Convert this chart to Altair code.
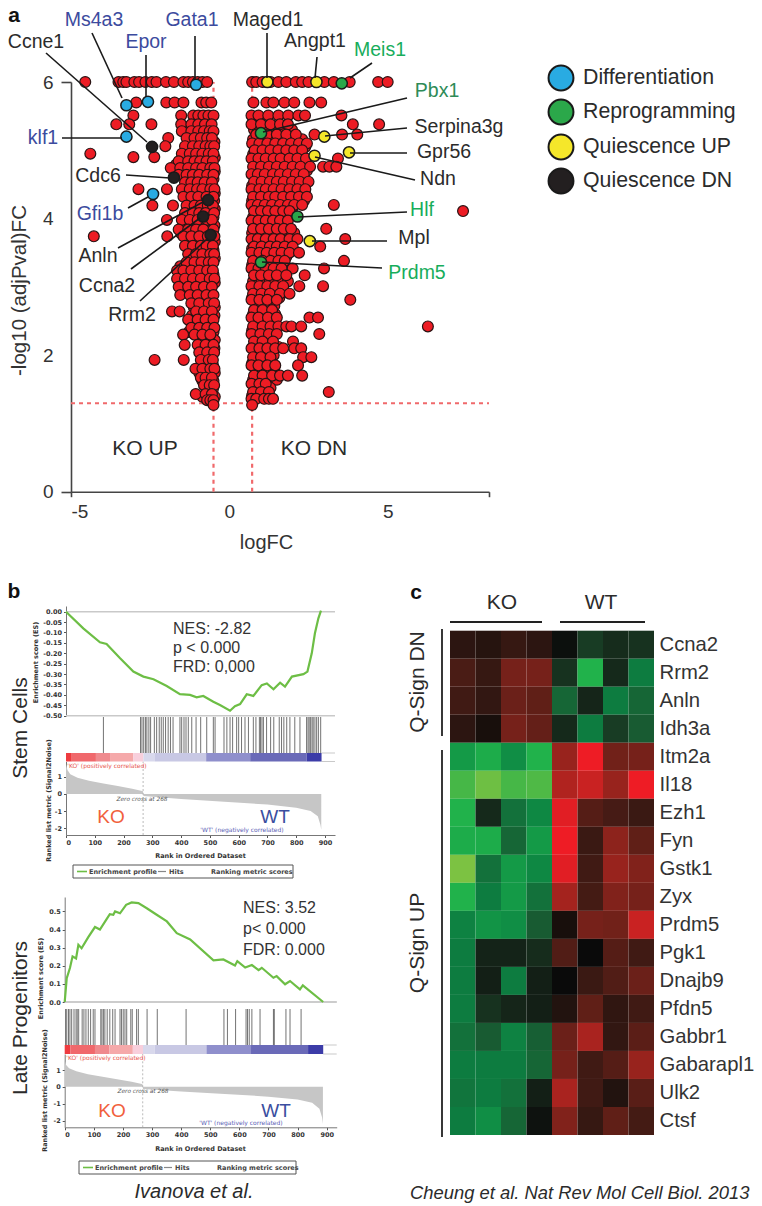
import altair as alt
import pandas as pd

W, H = 746, 1198

# ---------- panel a: volcano values (logFC, -log10 adj p) ----------
TOP_ROW_FC = [-4.55,-3.5,-3.35,-3.25,-3.0,-2.85,-2.65,-2.45,-2.3,-2.0,-1.75,-1.45,-1.3,-1.15,-1.0,-0.85,-0.7,
              0.72,0.85,1.05,1.3,1.55,1.8,2.1,2.3,2.5,3.0,3.3,3.8,4.7,5.0]
LEFT_ROWS = [
 (5.70,[-2.94,-1.99,-1.73,-1.45,-.88,-.73,-.57]),
 (5.51,[-3.03,-1.52,-1.14,-.98,-.82,-.66,-.5]),
 (5.38,[-3.57,-3.16,-2.46,-1.52,-1.2,-.98,-.77,-.56]),
 (5.28,[-1.5,-1.2,-.98,-.8,-.62,-.5]),
 (5.18,[-1.93,-1.35,-1.1,-.9,-.7,-.55]),
 (5.06,[-2.02,-1.4,-1.15,-.95,-.75,-.6,-.48]),
 (4.95,[-4.39,-1.5,-1.25,-1.05,-.85,-.65,-.5]),
 (4.90,[-3.03,-2.37]),
 (4.84,[-1.6,-1.3,-1.1,-.92,-.72,-.52]),
 (4.74,[-1.85,-1.55,-1.3,-1.05,-.85,-.6,-.47]),
 (4.64,[-1.6,-1.35,-1.15,-.95,-.7,-.5]),
 (4.53,[-1.4,-1.2,-1.0,-.78,-.55]),
 (4.43,[-2.87,-1.97,-1.5,-1.25,-1.02,-.85,-.6,-.47]),
 (4.32,[-1.45,-1.2,-.98,-.72,-.5]),
 (4.19,[-2.43,-1.78,-1.35,-1.1,-.9,-.68,-.52]),
 (4.08,[-1.4,-1.15,-.95,-.75,-.48]),
 (3.98,[-1.97,-1.5,-1.25,-1.0,-.7,-.55]),
 (3.84,[-1.6,-1.3,-1.05,-.82,-.5]),
 (3.74,[-4.28,-1.96,-1.45,-1.2,-.95,-.68,-.47]),
 (3.6,[-1.4,-1.15,-.9,-.72,-.52]),
 (3.48,[-1.3,-1.05,-.85,-.6,-.48]),
 (3.36,[-1.35,-1.1,-.88,-.65,-.5]),
 (3.24,[-1.65,-1.45,-1.2,-.95,-.7,-.52]),
 (3.12,[-1.65,-1.4,-1.15,-.9,-.62,-.47]),
 (3.0,[-1.6,-1.3,-1.05,-.8,-.55]),
 (2.88,[-1.55,-1.25,-1.0,-.72,-.5]),
 (2.76,[-1.2,-.95,-.65,-.48]),
 (2.64,[-1.81,-1.57,-1.05,-.8,-.55]),
 (2.52,[-1.3,-1.0,-.75,-.5]),
 (2.4,[-1.2,-.95,-.7,-.47]),
 (2.3,[-1.46,-1.1,-.85,-.6]),
 (2.15,[-1.41,-1.0,-.75,-.5]),
 (2.04,[-.95,-.7,-.48]),
 (1.93,[-2.36,-1.44,-.9,-.65,-.52]),
 (1.8,[-1.07,-.85,-.6,-.47]),
 (1.67,[-.9,-.75,-.55]),
 (1.56,[-.8,-.62,-.48]),
 (1.43,[-1.06,-.75,-.55]),
 (1.34,[-.7,-.6,-.5]),
 (1.27,[-.5]),
]
LEFT_FILL = [
 (5.33,[-1.35,-1.08,-.88,-.68]),(5.12,[-1.25,-1.02,-.82,-.64,-.47]),(5.0,[-1.32,-1.12,-.9,-.7,-.55]),
 (4.89,[-1.42,-1.18,-1.0,-.78,-.58,-.46]),(4.79,[-1.68,-1.42,-1.18,-.95,-.75,-.54]),(4.69,[-1.47,-1.25,-1.05,-.82,-.6,-.46]),
 (4.58,[-1.3,-1.1,-.9,-.66,-.5]),(4.48,[-1.38,-1.12,-.93,-.72,-.53]),(4.37,[-1.33,-1.1,-.85,-.62,-.46]),
 (4.26,[-1.28,-1.05,-.82,-.6,-.48]),(4.14,[-1.25,-1.02,-.84,-.6,-.46]),(4.02,[-1.33,-1.08,-.85,-.62,-.5]),
 (3.9,[-1.45,-1.15,-.92,-.66,-.47]),(3.78,[-1.52,-1.25,-1.0,-.78,-.55]),(3.66,[-1.3,-1.05,-.82,-.58,-.46]),
 (3.54,[-1.25,-1.02,-.8,-.62,-.5]),(3.42,[-1.2,-.98,-.75,-.55,-.46]),(3.3,[-1.55,-1.25,-1.0,-.77,-.58]),
 (3.18,[-1.52,-1.28,-1.05,-.8,-.5]),(3.06,[-1.48,-1.18,-.93,-.68,-.46]),(2.94,[-1.42,-1.12,-.88,-.62]),
 (2.82,[-1.08,-.82,-.55]),(2.7,[-1.12,-.9,-.68,-.46]),(2.58,[-1.18,-.92,-.65,-.47]),(2.46,[-1.08,-.82,-.58]),
 (2.34,[-1.28,-1.02,-.75,-.5]),(2.22,[-.92,-.66,-.46]),(2.1,[-.88,-.6,-.47]),(1.98,[-.8,-.55]),(1.86,[-.75,-.52]),
 (1.74,[-.95,-.68,-.46]),(1.62,[-.85,-.68,-.5]),(1.5,[-.68,-.52]),(1.39,[-.85,-.62,-.46]),
]
RIGHT_ROWS = [
 (5.70,[.76,1.17,1.39,1.74,2.05,2.53,2.9]),
 (5.51,[.7,.92,1.23,1.55,1.86,2.18,2.39,3.54]),
 (5.38,[.7,1.0,1.3,1.6,1.85,3.9,4.73]),
 (5.23,[.85,1.2,1.5,1.8,2.1,2.69,3.56,4.04]),
 (5.1,[.72,.95,1.2,1.45,1.7,1.95,2.2,2.45]),
 (5.0,[.8,1.05,1.3,1.55,1.8,2.05,2.3]),
 (4.88,[.7,.92,1.15,1.4,1.62,1.9,2.15,2.42,3.43]),
 (4.76,[.75,1.0,1.25,1.5,1.75,2.0,2.25,2.55,2.96,3.16,3.38]),
 (4.65,[.7,.9,1.12,1.38,1.6,1.85,2.1,2.35]),
 (4.54,[.78,1.02,1.28,1.5,1.72,1.98,2.22,2.5]),
 (4.43,[.7,.95,1.15,1.4,1.65,1.9,2.15,2.4]),
 (4.32,[.75,1.0,1.25,1.45,1.7,1.95,2.2,2.45]),
 (4.2,[.7,.9,1.12,1.35,1.6,1.85,2.05,2.3,3.3]),
 (4.11,[.78,1.0,1.22,1.45,1.7,1.9,7.38]),
 (3.97,[.7,.92,1.15,1.38,1.6,1.85]),
 (3.85,[.75,1.0,1.25,1.5,1.72,1.95,3.06]),
 (3.7,[.7,.9,1.15,1.4,1.62,1.9,2.15,3.66]),
 (3.59,[.78,1.02,1.28,1.5,1.75,2.0,2.87]),
 (3.5,[.7,.95,1.18,1.42,1.65,1.9,2.2]),
 (3.38,[.75,1.05,1.3,1.55,1.75,3.62]),
 (3.27,[.7,.92,1.15,1.4,1.65,2.0,2.99]),
 (3.17,[.78,1.0,1.25,1.5,1.8,2.38]),
 (3.01,[.7,.95,1.2,1.45,1.7,2.21,2.96]),
 (2.9,[.75,1.02,1.28,1.6,1.9]),
 (2.81,[.7,.95,1.2,1.5,3.82]),
 (2.66,[.78,1.05,1.35]),
 (2.55,[.7,.92,1.22,1.5,2.53,2.8]),
 (2.42,[.75,1.05,1.3,1.55,1.8,1.96,2.27,6.27]),
 (2.31,[.7,.98,1.25,1.5,2.84]),
 (2.2,[.78,1.05,1.38,2.01]),
 (2.1,[.7,.95,1.2,1.45,1.7,2.05,2.27]),
 (1.97,[.75,1.0,1.3,2.33,2.59]),
 (1.85,[.7,.92,1.2,1.45,2.17]),
 (1.7,[.78,1.05,1.35,1.6,1.85,2.3]),
 (1.58,[.7,.95,1.15]),
 (1.46,[.75,1.0,1.25,3.14]),
 (1.36,[.7,.85,1.1,1.25,1.38]),
 (1.27,[.72]),
]
RIGHT_FILL = [
 (5.3,[.78,1.08,1.38,1.68,1.98]),(5.16,[.75,1.0,1.3,1.58,1.88,2.3]),(5.05,[.88,1.12,1.42,1.68,1.92,2.18,2.4]),
 (4.94,[.75,1.0,1.22,1.48,1.72,2.0,2.25]),(4.82,[.85,1.1,1.35,1.6,1.85,2.1,2.35]),(4.7,[.78,1.0,1.22,1.45,1.7,1.95,2.2,2.45]),
 (4.6,[.85,1.08,1.32,1.55,1.8,2.02,2.28]),(4.48,[.72,.88,1.08,1.35,1.58,1.82,2.08,2.32]),(4.38,[.82,1.05,1.32,1.55,1.8,2.05,2.3]),
 (4.26,[.72,.95,1.18,1.4,1.62,1.88,2.12,2.36]),(4.14,[.85,1.05,1.3,1.52,1.78,1.98]),(4.02,[.75,.98,1.2,1.42,1.65,1.82]),
 (3.91,[.82,1.08,1.3,1.55,1.78]),(3.79,[.72,.95,1.18,1.42,1.62,1.85,2.05]),(3.68,[.8,1.02,1.25,1.5,1.75]),
 (3.56,[.72,.9,1.15,1.38,1.62,1.88]),(3.44,[.82,1.08,1.3,1.55,1.8]),(3.32,[.72,.98,1.22,1.48,1.7]),(3.2,[.85,1.08,1.32,1.58]),
 (3.08,[.75,1.02,1.28,1.55,1.85]),(2.96,[.82,1.1,1.38,1.65]),(2.84,[.72,1.05,1.3,1.58]),(2.72,[.85,1.12,1.42]),
 (2.6,[.75,1.0,1.28,1.45]),(2.48,[.82,1.12,1.38]),(2.36,[.72,.9,1.18,1.42]),(2.24,[.85,1.12,1.32]),(2.12,[.75,1.0,1.28,1.55]),
 (2.0,[.85,1.12,1.4]),(1.88,[.72,1.05,1.28]),(1.76,[.85,1.15,1.42]),(1.64,[.75,1.0,1.25,1.5]),(1.52,[.85,1.1,1.3]),(1.41,[.72,.92,1.15]),
]
GENES_HI = ["Gata1","Ms4a3","Epor","klf1","Gfi1b","Maged1","Angpt1","Serpina3g","Gpr56","Ndn","Mpl",
            "Meis1","Pbx1","Hlf","Prdm5","Ccne1","Cdc6","Anln","Ccna2","Rrm2"]
GENES_FC = [-1.05,-3.25,-2.57,-3.25,-2.41,1.2,2.75,3.0,3.78,2.69,2.54,3.55,1.0,2.15,1.0,-2.44,-1.75,-.67,-.83,-.59]
GENES_P  = [5.96,5.66,5.71,5.2,4.36,6.0,6.0,5.2,4.97,4.92,3.67,5.98,5.25,4.03,3.36,5.05,4.6,4.27,4.03,3.76]
GENES_CLASS = ["Differentiation"]*5 + ["Quiescence UP"]*6 + ["Reprogramming"]*4 + ["Quiescence DN"]*5
CLASSES = ["Differentiation","Reprogramming","Quiescence UP","Quiescence DN"]
CLASS_COLORS = ["#29ABE2","#2BA84A","#F5E72A","#231F20"]

# ---------- panel b: GSEA curves ----------
ES1_RANK = [0,60,118,141,188,234,269,304,350,396,431,454,477,512,535,570,587,605,628,651,680,698,721,744,761,785,825,839,854,865,877,886]
ES1_VAL = [0,-.08,-.147,-.155,-.224,-.288,-.312,-.325,-.357,-.396,-.40,-.412,-.405,-.433,-.449,-.476,-.454,-.444,-.397,-.405,-.353,-.345,-.373,-.341,-.36,-.312,-.30,-.288,-.2,-.104,-.032,.005]
HITS1 = [130,259,264,270,276,281,288,294,307,315,324,331,338,346,355,363,372,396,402,410,417,425,437,452,468,489,512,518,549,559,570,579,593,600,610,622,634,651,660,672,676,681,686,697,711,722,741,749,757,767,778,795,813,836,841,845,850,855,859,865,871,877,885]
ES2_RANK = [0,7,18,27,39,47,58,81,104,121,144,155,167,173,190,211,230,253,282,316,351,385,431,511,545,585,593,620,643,666,677,717,728,757,774,808,818,888]
ES2_VAL = [0,.132,.188,.252,.24,.316,.297,.358,.414,.40,.458,.485,.482,.5,.49,.537,.55,.546,.518,.482,.445,.38,.345,.23,.235,.202,.226,.19,.204,.176,.189,.134,.143,.098,.116,.07,.092,0]
HITS2 = [3,7,13,18,24,32,39,43,48,60,66,73,81,89,98,104,124,128,133,138,146,155,165,173,190,195,201,207,213,227,232,247,253,283,318,417,547,559,587,623,628,634,643,671,717,720,760,774,812]
METRIC_RANK = [0,5,15,40,80,130,180,230,265,268,269,400,550,700,800,850,875,884,887]
METRIC_VAL1 = [1.75,1.4,1.15,.95,.78,.62,.47,.3,.18,.15,-.12,-.3,-.45,-.62,-.8,-1.0,-1.3,-1.8,-2.1]
METRIC_VAL2 = [1.6,1.3,1.1,.92,.75,.6,.45,.3,.17,.13,-.12,-.28,-.42,-.58,-.75,-.95,-1.3,-1.8,-2.2]
BAR_EDGES = [0,20,104,153,234,269,309,487,640,836,888]
BAR_COLORS = ["#ee3b3f","#f0686c","#ef8a8e","#f5a9aa","#f8cfdc","#d8d8ec","#c8c8e4","#8f8fcc","#6a6ab8","#3c3ca8"]

# ---------- panel c: heat map ----------
HEAT_GENES = ["Ccna2","Rrm2","Anln","Idh3a","Itm2a","Il18","Ezh1","Fyn","Gstk1","Zyx","Prdm5","Pgk1","Dnajb9","Pfdn5","Gabbr1","Gabarapl1","Ulk2","Ctsf"]
SAMPLES = ["KO1","KO2","KO3","KO4","WT1","WT2","WT3","WT4"]
HEAT = [
 [.15,.12,.2,.15,-.02,-.25,-.17,-.2],
 [.3,.2,.5,.5,-.2,-1,-.15,-.55],
 [.25,.18,.45,.4,-.45,-.13,-.55,-.45],
 [.15,.05,.5,.42,-.15,-.55,-.25,-.4],
 [-.8,-.95,-.7,-1,.65,1,.48,.5],
 [-1.15,-1.4,-1.15,-1.2,.75,.85,.65,1],
 [-1,-.15,-.5,-.65,.95,.35,.28,.22],
 [-.95,-.95,-.45,-.8,1,.22,.6,.4],
 [-1.5,-.5,-.8,-.65,.95,.25,.65,.55],
 [-1,-.55,-.8,-.5,.7,.27,.55,.5],
 [-.6,-.75,-.7,-.4,.05,.5,.48,.85],
 [-.55,-.12,-.12,-.17,.33,0,.35,.25],
 [-.55,-.1,-.55,-.1,0,.22,.33,.45],
 [-.55,-.2,-.13,-.1,.1,.4,.17,.25],
 [-.5,-.4,-.6,-.42,.45,.72,.18,.38],
 [-.55,-.55,-.55,-.45,.5,.25,.35,.65],
 [-.52,-.55,-.5,-.1,.72,.25,.1,.37],
 [-.55,-.7,-.45,-.03,.55,.2,.4,.27],
]

# ---------- helpers ----------
def sc(dom, lo, hi):
    return alt.Scale(domain=dom, range=[lo - 8, hi - 8], nice=False, zero=False)

def PX(f="x"):
    return alt.X(f, type="quantitative", scale=sc([0, 762], 0, 762), axis=None)
def PY(f="y"):
    return alt.Y(f, type="quantitative", scale=sc([0, 1206], 0, 1206), axis=None)

def texts(rows, size=19.5, align="center", color="#2b2b2b", angle=0, font="Liberation Sans", **kw):
    df = pd.DataFrame(rows, columns=["t", "x", "y"])
    return alt.Chart(df).mark_text(fontSize=size, align=align, baseline="middle", color=color, angle=angle,
                                   font=font, **kw).encode(x=PX(), y=PY(), text="t:N")

def segs(rows, color="#1a1a1a", width=1.6, **kw):
    df = pd.DataFrame(rows, columns=["x", "y", "x2", "y2"])
    return alt.Chart(df).mark_rule(color=color, strokeWidth=width, **kw).encode(
        x=PX(), y=PY(), x2=alt.X2("x2"), y2=alt.Y2("y2"))

layers = []

# ---------- panel a ----------
VX = lambda: sc([-5, 8.2], 71, 489)
VY = lambda: sc([0, 6], 491.7, 82)

def vx(f, axis=None):
    return alt.X(f, type="quantitative", scale=VX(), axis=axis)
def vy(f, axis=None):
    return alt.Y(f, type="quantitative", scale=VY(), axis=axis)

guide_h = pd.DataFrame({"x": [-5], "x2": [8.2], "y": [1.295]})
layers.append(alt.Chart(guide_h).mark_rule(color="#F0696B", strokeWidth=2.2, strokeDash=[4, 4]).encode(
    x=vx("x"), x2=alt.X2("x2"), y=vy("y")))
guide_v = pd.DataFrame({"x": [-.5, .72], "y": [0, 0], "y2": [6, 6]})
layers.append(alt.Chart(guide_v).mark_rule(color="#F0696B", strokeWidth=2.2, strokeDash=[4, 4]).encode(
    x=vx("x"), y=vy("y"), y2=alt.Y2("y2")))

xs, ys = list(TOP_ROW_FC), [6.0] * len(TOP_ROW_FC)
for y, row in LEFT_FILL + LEFT_ROWS + RIGHT_FILL + RIGHT_ROWS:
    xs += row
    ys += [y] * len(row)
pts = pd.DataFrame({"fc": xs, "p": ys})
x_axis = alt.Axis(orient="bottom", values=[-5, 0, 5, 8.2],
                  labelExpr="datum.value==8.2?'':replace(datum.label,'\u2212','-')", title="logFC",
                  titleFontSize=20, titleFontWeight="normal", titleFont="Liberation Sans", titleColor="#333",
                  titleX=258, titleY=51, titleBaseline="middle", grid=False, domainColor="#444", domainWidth=1.6,
                  tickColor="#444", tickWidth=1.6, tickSize=5, labelFontSize=19, labelColor="#333",
                  labelFont="Liberation Sans", labelPadding=6, offset=483.7 - H, labelAngle=0,
                  tickOpacity={"condition": {"test": "datum.value==0||datum.value==5", "value": 0}, "value": 1})
y_axis = alt.Axis(orient="left", values=[0, 2, 4, 6], title="-log10 (adjPval)FC", titleFontSize=20.5, titleFontWeight="normal",
                  titleFont="Liberation Sans", titleColor="#333", titleX=-52, titleY=282, titleAngle=270,
                  titleBaseline="middle", grid=False, domainColor="#444", domainWidth=1.6, tickColor="#444",
                  tickWidth=1.6, tickSize=10, labelFontSize=19, labelColor="#333", labelFont="Liberation Sans",
                  labelPadding=8, offset=-63,
                  tickOpacity={"condition": {"test": "datum.value==2||datum.value==4", "value": 0}, "value": 1})
layers.append(alt.Chart(pts).mark_circle(color="#ED1C24", opacity=1, size=118, stroke="#2a1414", strokeWidth=1.2).encode(
    x=vx("fc:Q", x_axis), y=vy("p:Q", y_axis)))

hi = pd.DataFrame({"gene": GENES_HI, "fc": GENES_FC, "p": GENES_P, "cls": GENES_CLASS})
layers.append(alt.Chart(hi).mark_circle(opacity=1, size=125, stroke="#1a1a1a", strokeWidth=1.5).encode(
    x=vx("fc:Q"), y=vy("p:Q"),
    color=alt.Color("cls:N", scale=alt.Scale(domain=CLASSES, range=CLASS_COLORS), legend=None)))

layers.append(segs([
    (92,33,122,98),(46,53,147,142),(146,55,146,97),(195,36,195,80),(267,33,267,78),(317,57,315,78),
    (372,63,350,78),(407,98,263,132),(407,128,325,136),(407,153,350,153),(415,180,315,157),(407,212,298,217),
    (387,241,312,241),(382,268,262,262),(62,138,122,138),(126,175,170,178),(128,208,148,197),(118,248,203,202),
    (131,269,200,218),(140,301,208,238)]))

BLUE, GREEN, DGREEN = "#3C4B9E", "#17AD5B", "#2E8B57"
layers.append(texts([("Ms4a3",94,20),("Epor",146,42),("Gata1",192,20),("klf1",43,138),("Gfi1b",100,214)], color=BLUE))
layers.append(texts([("Meis1",380,50),("Hlf",422,210),("Prdm5",417,273)], color=GREEN))
layers.append(texts([("Pbx1",437,91)], color=DGREEN))
layers.append(texts([("Ccne1",36,42),("Maged1",268,20),("Angpt1",315,41),("Serpina3g",459,127),("Gpr56",444,152),
                     ("Ndn",438,179),("Mpl",414,238),("Cdc6",98,176),("Anln",98,256),("Ccna2",107,286),("Rrm2",132,315)]))
layers.append(texts([("KO UP",145,449),("KO DN",314,449)], size=21))
layers.append(alt.Chart(pd.DataFrame({"c": CLASSES, "x": [561]*4, "y": [78,112,147,181]})).mark_circle(
    opacity=1, size=620, stroke="#1a1a1a", strokeWidth=2).encode(
    x=PX(), y=PY(), color=alt.Color("c:N", scale=alt.Scale(domain=CLASSES, range=CLASS_COLORS), legend=None)))
layers.append(texts([(c, 583, y) for c, y in zip(CLASSES, [78,112,147,181])], size=21.3, align="left"))
layers.append(texts([("a",14,16),("b",14,592),("c",416,593)], size=21, fontWeight="bold", color="#111"))

# ---------- panel b ----------
def gsea(es_rank, es_val, hits, metric, x0, x9, xr, es_dom, es_rng, es_ticks, es_fmt, hit_top, hit_bot, bar_bot,
         met_dom, met_rng, tx_es, tx_met, tx_rank_y):
    xd = [0, 900 * (xr - x0) / (x9 - x0)]
    def bx(f, axis=None):
        return alt.X(f, type="quantitative", scale=sc(xd, x0, xr), axis=axis)
    def ey(f, axis=None):
        return alt.Y(f, type="quantitative", scale=sc(es_dom, es_rng[0], es_rng[1]), axis=axis)
    def my(f, axis=None):
        return alt.Y(f, type="quantitative", scale=sc(met_dom, met_rng[0], met_rng[1]), axis=axis)
    def hy(f):
        return alt.Y(f, type="quantitative", scale=sc([0, 1], hit_bot, hit_top), axis=None)
    out = []
    small = dict(labelFontSize=6.5, labelColor="#333", labelFont="DejaVu Sans", labelFontWeight="bold", tickColor="#555",
                 tickSize=2.5, grid=False, domainColor="#777", titleFontSize=6.5, titleFont="DejaVu Sans",
                 titleFontWeight="bold", titleColor="#333", labelPadding=2, titleBaseline="middle")
    ref = pd.DataFrame({"x": [0, 0], "x2": [xd[1], xd[1]], "y": [0, es_ticks[-1] if es_ticks[-1] < 0 else 0]})
    out.append(alt.Chart(ref).mark_rule(color="#c9c9c9", strokeWidth=1.4).encode(bx("x"), ey("y"), x2=alt.X2("x2")))
    box = pd.DataFrame({"x": [888, 888], "x2": [xd[1], xd[1]], "y": [0, 1]})
    out.append(alt.Chart(box).mark_rule(color="#c9c9c9", strokeWidth=1).encode(
        bx("x"), alt.Y("y", type="quantitative", scale=sc([0, 1], bar_bot, hit_bot), axis=None), x2=alt.X2("x2")))
    md = pd.DataFrame({"r": METRIC_RANK, "v": metric, "z": [0] * len(metric)})
    xax = alt.Axis(orient="bottom", values=list(range(0, 901, 100)), title="Rank in Ordered Dataset", titleX=tx_rank_y[0] - 8,
                   titleY=tx_rank_y[1] - met_rng[0], offset=met_rng[0] - 8 - H, labelAngle=0, **small)
    yax = alt.Axis(orient="left", values=[-2, -1, 0, 1], title="Ranked list metric (Signal2Noise)", titleAngle=270,
                   labelExpr="replace(datum.label,'\u2212','-')",
                   titleX=tx_met[0] - x0, titleY=tx_met[1] - 8, offset=-(x0 - 8), **small)
    out.append(alt.Chart(md).mark_area(color="#c6c6c6", opacity=1).encode(bx("r:Q", xax), my("v:Q", yax), y2=alt.Y2("z")))
    out.append(alt.Chart(pd.DataFrame({"x": [268], "y": [met_dom[0]], "y2": [met_dom[1]]})).mark_rule(
        color="#aaaaaa", strokeWidth=.8, strokeDash=[2, 2]).encode(bx("x"), my("y"), y2=alt.Y2("y2")))
    hd = pd.DataFrame({"r": hits, "a": [0] * len(hits), "b": [1] * len(hits)})
    out.append(alt.Chart(hd).mark_rule(color="#444", strokeWidth=1, opacity=.75).encode(bx("r:Q"), hy("a"), y2=alt.Y2("b")))
    bd = pd.DataFrame({"r": BAR_EDGES[:-1], "r2": BAR_EDGES[1:], "c": BAR_COLORS})
    out.append(alt.Chart(bd).mark_rect().encode(
        bx("r:Q"), x2=alt.X2("r2"),
        y=alt.value(hit_bot - 8), y2=alt.value(bar_bot - 8),
        color=alt.Color("c:N", scale=None, legend=None)))
    ed = pd.DataFrame({"r": es_rank, "e": es_val})
    eax = alt.Axis(orient="left", values=es_ticks, format=es_fmt, labelExpr="replace(datum.label,'\u2212','-')",
                   title="Enrichment score (ES)", titleAngle=270, titleX=tx_es[0] - x0,
                   titleY=tx_es[1] - 8, offset=-(x0 - 8), **small)
    out.append(alt.Chart(ed).mark_line(color="#6DBE45", strokeWidth=2.2).encode(bx("r:Q"), ey("e:Q", eax)))
    return out

layers += gsea(ES1_RANK, ES1_VAL, HITS1, METRIC_VAL1, 66, 325, 335, [-.5, .0274], [715.7, 606],
               [round(-.05 * i, 2) for i in range(11)], ".2f", 717, 753, 761.5, [-2.4, 1.9], [835, 761.5],
               (35, 662), (48, 800), (200, 855))
layers += gsea(ES2_RANK, ES2_VAL, HITS2, METRIC_VAL2, 64.7, 326.7, 336.7, [0, .58], [1002, 897],
               [0, .1, .2, .3, .4, .5], ".1f", 1009, 1045, 1054, [-2.4, 1.95], [1127.3, 1054],
               (41, 978), (45, 1090), (200, 1148))

TXT = "#333333"
layers.append(texts([("NES: -2.82",173,629),("p < 0.000",173,648),("FRD: 0,000",173,667),
                     ("NES: 3.52",243,908),("p< 0.000",243,929),("FDR: 0.000",243,950)], size=16, align="left", color=TXT))
layers.append(texts([("KO",111,817),("KO",112,1111)], size=19, color="#F1603C"))
layers.append(texts([("WT",275,817),("WT",276,1111)], size=19, color="#3A4EA0"))
layers.append(texts([("'KO' (positively correlated)",107,765.5),("'KO' (positively correlated)",106,1058)], size=6, color="#E8564E", font="DejaVu Sans"))
layers.append(texts([("'WT' (negatively correlated)",242,830),("'WT' (negatively correlated)",241,1123)], size=6, color="#5B62B5", font="DejaVu Sans"))
layers.append(texts([("Zero cross at 268",142,798.5),("Zero cross at 268",143,1091)], size=5.8, color="#555", font="DejaVu Sans", fontStyle="italic"))
layers.append(texts([("Stem Cells",21,728),("Late Progenitors",21,1018)], size=21, angle=270))
for bx0, by0, bx1, by1 in [(73, 865, 293, 878), (79, 1161, 296, 1174)]:
    layers.append(alt.Chart(pd.DataFrame({"x": [bx0], "x2": [bx1], "y": [by0], "y2": [by1]})).mark_rect(
        fill="#ffffff", stroke="#555", strokeWidth=1).encode(x=PX(), x2=alt.X2("x2"), y=PY(), y2=alt.Y2("y2")))
    layers.append(segs([(bx0 + 4, (by0+by1)/2, bx0 + 14, (by0+by1)/2)], color="#6DBE45", width=1.6))
    layers.append(segs([(bx0 + 85, (by0+by1)/2, bx0 + 93, (by0+by1)/2)], color="#888", width=1.2))
    layers.append(texts([("Enrichment profile", bx0 + 16, (by0+by1)/2), ("Hits", bx0 + 96, (by0+by1)/2),
                         ("Ranking metric scores", bx0 + 138, (by0+by1)/2)], size=6.5, align="left",
                        font="DejaVu Sans", fontWeight="bold", color="#444"))
layers.append(texts([("Ivanova et al.",194,1192)], size=20, fontStyle="italic"))
layers.append(texts([("Cheung et al. Nat Rev Mol Cell Biol. 2013",410,1193)], size=18.4, align="left", fontStyle="italic"))

# ---------- panel c ----------
heat = pd.DataFrame([{"gene": g, "sample": s, "v": v} for g, row in zip(HEAT_GENES, HEAT) for s, v in zip(SAMPLES, row)])
gene_axis = alt.Axis(orient="right", title=None, domain=False, ticks=False, labelFontSize=20.3, labelColor="#333",
                     labelFont="Liberation Sans", labelPadding=5, offset=-(W - (654 - 8)), grid=False)
layers.append(alt.Chart(heat).mark_rect().encode(
    x=alt.X("sample:N", sort=SAMPLES, scale=alt.Scale(domain=SAMPLES, range=[450 - 8, 654 - 8]), axis=None),
    y=alt.Y("gene:N", sort=HEAT_GENES, scale=alt.Scale(domain=HEAT_GENES, range=[630.7 - 8, 1135 - 8]), axis=gene_axis),
    color=alt.Color("v:Q", legend=None, scale=alt.Scale(domain=[-1.5, -1, -.55, 0, 1],
                    range=["#7cc242", "#21b24b", "#0d7c40", "#0a0a0a", "#ee1c25"], clamp=True))))
layers.append(texts([("KO",502,603),("WT",601,603)], size=21))
layers.append(segs([(450,622,542,622),(560,622,645,622),(442,629,442,736),(442,750,442,1137)], color="#222", width=1.8))
layers.append(texts([("Q-Sign DN",418,682),("Q-Sign UP",418,943)], size=21, angle=270))

chart = alt.layer(*layers).resolve_scale(x="independent", y="independent", color="independent").properties(
    width=W, height=H, padding=0, autosize=alt.AutoSizeParams(type="none"), background="white"
).configure_view(stroke=None)

chart.save("out.html", embed_options={"renderer": "svg", "actions": False})
